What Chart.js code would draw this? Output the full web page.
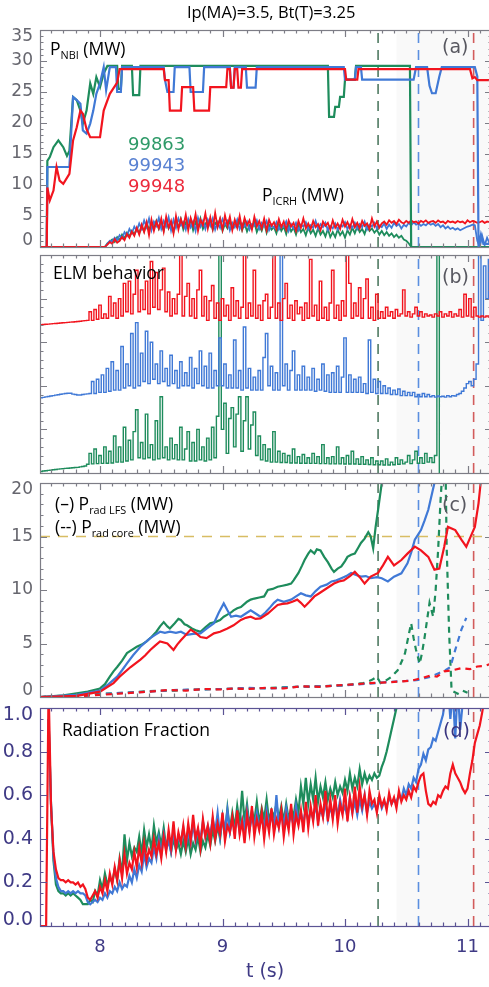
<!DOCTYPE html>
<html><head><meta charset="utf-8">
<script src="https://cdn.jsdelivr.net/npm/chart.js@4/dist/chart.umd.min.js"></script>
<style>
html,body{margin:0;padding:0;background:#fff;overflow:hidden;width:489px;height:987px;}
#wrap{position:relative;width:489px;height:987px;overflow:hidden;background:#fff;}
canvas{position:absolute;left:0;}
.t{position:absolute;white-space:nowrap;line-height:1;transform:translateY(-50%);font-family:"Open Sans",sans-serif;color:#000;z-index:5;font-size:17.5px}
.t sub{font-size:0.62em;vertical-align:-0.38em;line-height:0}
.num{font-family:"DejaVu Sans",sans-serif;font-size:18px}
.lab{font-family:"DejaVu Sans",sans-serif;font-size:19px;color:#585860}
</style></head><body><div id="wrap">
<canvas id="ca" width="492" height="242" style="top:18px;width:492px;height:242px"></canvas>
<canvas id="cb" width="492" height="230" style="top:249px;width:492px;height:230px"></canvas>
<canvas id="cc" width="492" height="226" style="top:477px;width:492px;height:226px"></canvas>
<canvas id="cd" width="492" height="287" style="top:700px;width:492px;height:287px"></canvas>
<div class="t" style="left:187px;top:12px;font-size:16.5px">Ip(MA)=3.5, Bt(T)=3.25</div>
<div class="t" style="left:50px;top:49px">P<sub>NBI</sub> (MW)</div>
<div class="t num" style="left:128px;top:143.5px;color:#2e9a68">99863</div>
<div class="t num" style="left:128px;top:164.5px;color:#5a82d2">99943</div>
<div class="t num" style="left:128px;top:185.5px;color:#ec2a3c">99948</div>
<div class="t" style="left:262px;top:195px">P<sub>ICRH</sub> (MW)</div>
<div class="t lab" style="left:442px;top:46px">(a)</div>
<div class="t" style="left:53px;top:273px">ELM behavior</div>
<div class="t lab" style="left:442px;top:276px">(b)</div>
<div class="t" style="left:55px;top:503.5px">(–) P<sub>rad LFS</sub> (MW)</div>
<div class="t" style="left:55px;top:526.5px">(--) P<sub>rad core</sub> (MW)</div>
<div class="t lab" style="left:442px;top:504px">(c)</div>
<div class="t" style="left:62px;top:730px">Radiation Fraction</div>
<div class="t lab" style="left:443px;top:730px;color:#3a3580">(d)</div>
</div>
<script>
// ---------------- DATA ----------------
const tGrid = [
7.50,7.52,7.54,7.56,7.58,7.60,7.62,7.64,7.66,7.68,
7.70,7.72,7.74,7.76,7.78,7.80,7.82,7.84,7.86,7.88,
7.90,7.92,7.94,7.96,7.98,8.00,8.02,8.04,8.06,8.08,
8.10,8.12,8.14,8.16,8.18,8.20,8.22,8.24,8.26,8.28,
8.30,8.32,8.34,8.36,8.38,8.40,8.42,8.44,8.46,8.48,
8.50,8.52,8.54,8.56,8.58,8.60,8.62,8.64,8.66,8.68,
8.70,8.72,8.74,8.76,8.78,8.80,8.82,8.84,8.86,8.88,
8.90,8.92,8.94,8.96,8.98,9.00,9.02,9.04,9.06,9.08,
9.10,9.12,9.14,9.16,9.18,9.20,9.22,9.24,9.26,9.28,
9.30,9.32,9.34,9.36,9.38,9.40,9.42,9.44,9.46,9.48,
9.50,9.52,9.54,9.56,9.58,9.60,9.62,9.64,9.66,9.68,
9.70,9.72,9.74,9.76,9.78,9.80,9.82,9.84,9.86,9.88,
9.90,9.92,9.94,9.96,9.98,10.00,10.02,10.04,10.06,10.08,
10.10,10.12,10.14,10.16,10.18,10.20,10.22,10.24,10.26,10.28,
10.30,10.32,10.34,10.36,10.38,10.40,10.42,10.44,10.46,10.48,
10.50,10.52,10.54,10.56,10.58,10.60,10.62,10.64,10.66,10.68,
10.70,10.72,10.74,10.76,10.78,10.80,10.82,10.84,10.86,10.88,
10.90,10.92,10.94,10.96,10.98,11.00,11.02,11.04,11.06,11.08,
11.10,11.12,11.14,11.16,11.18];

const shotNames = ['99863','99943','99948'];
const disruptTimes = [10.27, 10.60, 11.05];
const radLimit = 15;
const shadeFrom = 10.42;

// (a) P_NBI (MW), [t, value]
const nbiGreen = [
[7.50,0],[7.565,0],[7.57,13.9],[7.59,14.5],[7.62,16.1],[7.66,17.2],[7.70,16.1],[7.73,14.7],[7.75,15.5],[7.78,24.2],[7.81,23.7],[7.84,22.0],[7.86,19.9],[7.89,22.0],[7.92,26.4],[7.945,24.7],[7.97,27.4],[8.00,25.8],[8.03,28.0],[8.06,29.2],
[8.14,29.2],[8.15,25.5],[8.17,25.5],[8.18,29.2],[8.26,29.2],[8.27,24.5],[8.32,24.5],[8.33,29.2],
[9.86,29.2],[9.87,21.0],[9.91,21.0],[9.92,22.6],[9.95,22.6],[9.96,24.2],[9.99,24.2],[10.0,27.0],[10.08,27.0],[10.09,29.2],
[10.53,29.2],[10.54,0],[11.2,0]];
const nbiBlue = [
[7.50,0],[7.565,0],[7.57,12.9],[7.75,12.9],[7.78,24.2],[7.81,23.7],[7.84,23.1],[7.86,18.8],[7.89,18.3],[7.92,19.9],[7.945,22.0],[7.97,24.7],[8.00,26.4],[8.03,29.0],[8.05,25.3],[8.08,29.0],
[8.13,29.0],[8.14,25.0],[8.17,25.0],[8.18,29.0],
[8.52,29.0],[8.53,27.0],[8.55,25.0],[8.60,25.0],[8.61,29.0],
[8.73,29.0],[8.74,25.0],[8.84,25.0],[8.85,29.0],
[9.06,29.0],[9.07,25.7],[9.09,25.7],[9.10,29.0],
[9.19,29.0],[9.20,25.7],[9.27,25.7],[9.28,29.0],
[9.99,29.0],[10.00,27.0],[10.08,27.0],[10.09,29.0],[10.13,29.0],[10.14,27.0],[10.56,27.0],[10.58,29.0],
[10.67,29.0],[10.69,26.0],[10.71,24.8],[10.74,24.8],[10.77,27.5],[10.79,29.0],
[11.06,29.0],[11.08,27.5],[11.09,0],[11.11,2.0],[11.13,0.5],[11.2,0.5]];
const nbiRed = [
[7.50,0],[7.565,0],[7.57,9.6],[7.59,7.5],[7.62,9.1],[7.645,12.9],[7.67,10.7],[7.70,10.2],[7.75,11.8],[7.78,17.2],[7.81,19.3],[7.84,22.0],[7.86,21.5],[7.89,19.0],[7.92,17.7],[8.00,17.7],[8.03,22.0],[8.08,24.7],[8.14,26.5],[8.16,28.7],
[8.52,28.7],[8.53,26.9],[8.56,26.9],[8.57,22.0],[8.66,22.0],[8.67,25.8],[8.76,25.8],[8.77,22.0],[8.89,22.0],[8.90,25.8],[9.03,25.8],[9.04,28.7],
[9.06,28.7],[9.07,25.7],[9.09,25.7],[9.10,28.7],[9.12,28.7],[9.13,25.7],[9.15,25.7],[9.16,28.7],
[10.00,28.7],[10.01,27.0],[10.10,27.0],[10.11,28.7],
[11.02,28.7],[11.04,27.2],[11.06,27.4],[11.08,26.9],[11.2,26.9]];

// (a) P_ICRH (MW) on tGrid
const icrhGreen = [
0,0,0,0,0,0,0,0,0,0, 0,0,0,0,0,0,0,0,0,0, 0,0,0,0,0,0,0,0,0.6,0.9,
1.2,0.8,1.6,1.1,2.0,1.4,2.3,1.7,2.6,2.0, 3.0,2.2,3.4,2.5,3.9,2.8,3.6,3.1,4.2,2.9,
3.8,2.6,4.3,3.0,3.7,2.4,4.1,3.2,4.5,2.8, 3.9,3.3,4.4,2.7,4.0,3.1,4.6,2.9,3.8,3.3,
4.3,2.8,3.9,3.4,4.5,2.6,3.7,3.0,4.2,2.9, 3.6,3.2,4.1,2.7,3.8,2.5,3.5,3.0,4.0,2.4,
3.4,2.6,3.9,2.3,3.6,2.8,3.2,2.2,3.7,2.6, 3.3,2.1,3.6,2.5,3.1,2.0,3.4,2.4,2.9,1.9,
3.2,2.2,2.8,1.8,3.0,2.0,2.6,1.7,2.9,1.6, 2.4,1.6,2.8,1.9,2.5,1.5,2.7,2.0,3.1,2.2,
3.3,2.4,2.9,2.1,3.4,2.6,3.0,2.3,2.8,2.0, 2.6,1.9,2.4,1.8,2.2,1.6,2.0,1.5,1.8,1.2,
1.0,0.6,0,0,0,0,0,0,0,0, 0,0,0,0,0,0,0,0,0,0, 0,0,0,0,0,0,0,0,0,0, 0,0,0,0,0];
const icrhBlue = [
0,0,0,0,0,0,0,0,0,0, 0,0,0,0,0,0,0,0,0,0, 0,0,0,0,0,0,0,0,0.5,1.0,
0.9,1.5,1.1,1.9,1.4,2.4,1.8,2.9,2.2,3.3, 2.6,3.8,2.9,4.3,3.2,4.6,2.7,4.1,3.4,4.7,
2.9,4.2,3.3,4.8,2.7,4.4,3.1,4.6,3.5,4.0, 2.8,4.5,3.2,4.1,2.6,4.7,3.3,4.2,2.9,4.4,
3.4,4.6,2.8,4.0,3.1,4.5,3.6,4.2,2.7,3.9, 3.2,4.4,2.9,3.8,3.3,4.1,2.8,3.7,3.4,4.3,
2.9,3.9,3.3,4.2,2.7,3.6,3.1,4.0,2.8,3.5, 3.2,4.1,2.6,3.7,3.0,3.9,2.7,3.6,3.3,4.0,
2.8,3.5,3.1,4.2,2.9,3.7,3.2,3.9,2.7,3.4, 3.0,3.8,2.8,3.5,3.3,4.0,2.9,3.6,3.1,3.9,
2.9,3.7,3.2,4.1,2.8,3.6,3.3,3.9,3.0,3.5, 3.2,3.8,2.9,3.6,3.1,3.9,3.4,3.7,3.0,3.6,
3.3,3.9,3.5,4.0,3.6,3.8,3.4,3.7,3.5,3.9, 3.6,3.8,3.4,3.7,3.2,3.5,3.0,3.3,2.9,3.1,
2.8,3.0,2.7,2.9,3.1,3.3,3.4,3.6,3.5,1.0, 0,1.8,0.3,1.5,0.6];
const icrhRed = [
0,0,0,0,0,0,0,0,0,0, 0,0,0,0,0,0,0,0,0,0, 0,0,0,0,0,0,0,0,0.4,0.8,
0.5,1.3,0.7,1.0,1.6,1.1,2.1,1.5,2.5,1.8, 3.1,2.0,3.6,2.4,4.0,1.9,4.4,2.6,4.1,3.0,
4.6,2.5,4.9,3.1,4.2,2.2,5.0,2.8,4.5,3.3, 5.2,2.7,4.7,3.4,5.3,2.6,4.4,3.5,5.4,3.0,
4.8,2.9,5.5,3.2,4.6,2.8,5.1,3.4,4.9,2.7, 4.4,3.1,5.0,2.9,4.7,3.5,4.3,2.8,4.9,3.3,
4.2,3.0,4.6,2.7,4.4,3.4,4.0,2.9,4.5,3.2, 4.1,2.8,4.3,3.3,3.9,2.6,4.2,3.1,4.6,3.0,
3.8,2.9,4.2,3.2,3.7,2.7,4.1,3.4,3.9,2.8, 4.3,3.1,3.8,2.9,4.4,3.3,4.0,3.0,4.5,3.2,
3.9,3.0,4.2,3.4,3.8,2.9,4.6,3.3,4.1,3.1, 3.8,4.1,3.6,4.3,3.9,4.2,3.7,4.4,4.0,3.8,
4.2,3.9,4.3,4.0,4.1,3.8,4.2,4.0,4.3,3.9, 4.1,4.2,3.9,4.3,4.0,4.1,3.8,4.2,4.0,4.1,
3.9,4.2,4.0,4.1,3.8,4.3,4.0,4.2,4.1,3.9, 4.0,4.2,3.9,4.1,4.0];

// (b) ELM behaviour (offset traces, arbitrary units) on tGrid
const elmRed = [
67.9,68.0,68.1,68.2,68.3,68.4,68.5,68.6,68.7,68.8, 68.9,69.0,69.1,69.2,69.3,69.4,69.5,69.6,69.8,69.9,
70,74,70,75,70.5,77,71,73,71,81, 72,78,71,80,72,87,74,88,73,82,
93,74,84,75,88,73,97,76,92,75, 84,94,74,83,72,80,73,82,104,72,
81,87,72,80,71,84,93,72,81,70, 79,86,71,78,70,80,72,77,70,85,
72,79,71,76,104,71,78,72,93,71, 77,70,79,82,71,76,104,71,78,70,
80,87,71,77,70,79,73,76,70,78, 71,98,72,77,70,88,71,76,70,78,
93,71,77,70,79,72,104,87,71,78, 72,85,71,80,89,71,76,70,82,71,
74,71,76,72,74,71,75,72,73,84, 72,74,71.5,73,76,72,74,71.5,73,72,
72.5,71.5,73,72,74,71.5,73,72,74,71.5, 73,72,75,71.5,82,72,80,71.5,76,72,
71.5,72,71.5,72,71.5];
const elmBlue = [
34.3,34.5,34.7,34.9,35.1,35.3,35.5,35.7,35.9,36.1, 36.3,36.5,36.6,36.6,36.2,36.0,35.8,35.8,36.0,36.2,
36.3,36.5,42,36.5,43,37,45,37,48,37.5, 51,38,47,38,58,39,50,40,64,39,
69,40,55,42,65,41,60,43,50,41, 56,42,48,40,54,41,47,39,51,40,
46,40,53,39,48,41,56,40,49,39, 55,39,47,40,62,40,50,39,45,39,
61,39,47,38,67,39,48,38,44,38, 47,38,53,64,40,49,38,46,38,104,
40,50,38,47,56,38,45,38,49,38, 44,38,48,37.5,43,38,50,37.5,45,37,
46,37,49,37,44,62,37,45,37,43, 37,44,37,41,36.5,61,37,43,36.5,42,
36.5,40,36.5,39,36,38,36,38.5,35.5,37.5, 35.5,37,35.5,37,35,36,35,36.5,35,36,
35,35.5,34.8,35.3,35,35.2,34.8,35.5,35,35.5, 35.3,36,36.5,37.5,39,41,42,40,43,50,
100,70,95,80,98];
const elmGreen = [
0.6,0.7,0.9,1.0,1.2,1.3,1.5,1.6,1.8,1.9, 2.0,2.1,2.2,2.3,2.4,2.5,2.6,2.8,3.0,3.2,
4,9,4.2,11,4.3,8,4.4,12,4.5,10, 4.6,17,5,12,5,21,5.5,15,6,19,
29,7,14,6.5,27,7,13,6,24,6.5, 35,7,12,6,16,6.5,13,6,21,6,
11,19,5.5,14,5.5,20,6,12,5.5,16, 6,21,7,26,104,20,32,9,25,30,
12,27,35,10,24,35,11,22,28,8, 17,6,13,5.5,11,5,19,5,10,4.8,
9,4.8,8,4.6,11,4.6,7.5,4.5,8.5,4.5, 7,4.4,9,4.4,7.5,4.3,13,4.3,7,4.2,
7.5,4.2,12,4.2,7,4.1,8,4.1,10,4.1, 6.5,4.0,7.5,4.0,6,3.9,7,3.8,5.5,3.8,
5.5,3.7,6.5,3.7,5,3.8,7,4,6,4.2, 5,8,4.3,6,10,4.5,7,4.4,9,5,
7,4.8,8,104,-5,null,null,null,null,null, null,null,null,null,null,null,null,null,null,null,
null,null,null,null,null];

// (c) P_rad LFS (solid) and P_rad core (dashed), MW, [t, value]
const lfsGreen = [
[7.51,0],[7.70,0.15],[7.81,0.35],[7.90,0.5],[8.00,0.8],[8.04,1.2],[8.08,1.9],[8.11,2.4],[8.14,2.8],[8.18,3.4],[8.22,4.1],[8.26,4.4],[8.30,4.7],[8.34,4.9],[8.38,5.2],[8.42,5.6],[8.46,6.1],[8.49,6.6],[8.52,7.0],[8.55,6.6],[8.57,6.4],[8.61,6.9],[8.64,7.3],[8.66,7.2],[8.69,6.8],[8.71,6.7],[8.75,6.4],[8.79,6.2],[8.82,6.1],[8.86,6.5],[8.90,6.9],[8.94,7.0],[8.98,7.2],[9.01,7.5],[9.04,7.7],[9.07,7.9],[9.09,8.1],[9.12,8.3],[9.15,8.4],[9.18,8.7],[9.20,8.9],[9.23,9.1],[9.26,9.2],[9.30,9.3],[9.34,9.4],[9.37,10.0],[9.41,10.1],[9.45,10.3],[9.49,10.4],[9.53,10.5],[9.56,10.6],[9.58,10.9],[9.62,11.6],[9.65,12.3],[9.67,12.8],[9.70,13.4],[9.72,13.7],[9.75,13.4],[9.77,13.8],[9.80,13.7],[9.83,13.1],[9.86,12.6],[9.89,12.0],[9.91,11.7],[9.94,12.0],[9.97,12.2],[10.00,12.7],[10.02,13.1],[10.05,13.3],[10.08,13.4],[10.11,14.0],[10.13,14.4],[10.16,14.8],[10.19,15.4],[10.21,15.0],[10.23,13.9],[10.25,15.9],[10.27,17.5],[10.30,20.0],[10.32,22.5]];
const lfsBlue = [
[7.51,0],[7.81,0.2],[8.00,0.6],[8.07,1.2],[8.14,1.9],[8.18,2.5],[8.22,3.15],[8.27,3.9],[8.33,4.7],[8.37,5.1],[8.41,5.5],[8.45,5.8],[8.49,6.1],[8.53,6.0],[8.57,6.1],[8.62,6.0],[8.66,6.1],[8.71,5.8],[8.76,5.9],[8.82,5.95],[8.87,6.4],[8.93,6.9],[8.97,7.9],[9.01,8.75],[9.04,8.1],[9.07,7.5],[9.11,7.6],[9.15,7.5],[9.19,7.8],[9.23,8.1],[9.27,7.8],[9.31,7.5],[9.35,7.9],[9.39,8.4],[9.42,8.8],[9.45,9.1],[9.50,8.9],[9.56,9.1],[9.60,9.4],[9.64,9.7],[9.68,9.5],[9.72,9.4],[9.76,9.9],[9.80,10.3],[9.85,10.5],[9.89,10.8],[9.93,10.9],[9.97,11.1],[10.01,11.3],[10.05,11.6],[10.09,11.4],[10.13,11.25],[10.17,11.3],[10.21,11.1],[10.26,11.2],[10.30,11.1],[10.35,10.8],[10.40,11.25],[10.46,11.56],[10.51,12.5],[10.54,13.5],[10.57,14.7],[10.62,15.6],[10.65,16.5],[10.68,17.5],[10.73,20.0],[10.76,22]];
const lfsRed = [
[7.51,0],[7.81,0.1],[8.00,0.5],[8.11,1.3],[8.16,1.9],[8.25,2.8],[8.33,3.5],[8.37,3.9],[8.41,4.4],[8.45,4.8],[8.49,5.2],[8.55,5.0],[8.60,4.4],[8.63,4.9],[8.66,5.3],[8.70,5.8],[8.74,6.3],[8.78,6.0],[8.82,5.6],[8.87,5.5],[8.93,5.95],[8.98,6.1],[9.04,6.4],[9.09,6.7],[9.15,7.2],[9.19,7.4],[9.23,7.5],[9.27,7.3],[9.31,7.35],[9.37,7.8],[9.41,8.2],[9.45,8.6],[9.49,8.7],[9.53,8.75],[9.57,8.9],[9.61,9.1],[9.64,8.8],[9.67,8.44],[9.71,8.9],[9.75,9.4],[9.79,9.7],[9.83,10.0],[9.87,10.3],[9.91,10.6],[9.95,10.8],[9.99,10.9],[10.04,11.3],[10.08,11.7],[10.12,11.2],[10.16,10.6],[10.21,11.25],[10.27,11.6],[10.31,12.3],[10.35,13.1],[10.40,12.3],[10.46,12.8],[10.51,13.4],[10.57,14.05],[10.62,13.7],[10.68,13.1],[10.73,11.9],[10.77,12.0],[10.81,14.05],[10.84,15.9],[10.90,15.6],[10.95,14.7],[10.99,14.05],[11.03,15.1],[11.06,15.9],[11.09,18.1],[11.11,20.3],[11.14,23]];
const coreGreen = [
[7.51,0],[7.8,0.05],[8.0,0.3],[8.2,0.4],[8.4,0.55],[8.6,0.6],[8.8,0.7],[9.0,0.75],[9.2,0.8],[9.4,0.85],[9.6,0.95],[9.8,1.0],[10.0,1.1],[10.15,1.3],[10.22,1.6],[10.26,1.9],[10.29,1.3],[10.33,1.5],[10.38,1.9],[10.43,2.5],[10.47,3.5],[10.49,4.1],[10.52,5.8],[10.54,6.9],[10.56,5.5],[10.58,4.4],[10.61,3.1],[10.63,4.2],[10.65,5.6],[10.67,7.2],[10.69,8.8],[10.72,7.5],[10.74,10.0],[10.76,13.7],[10.78,18.4],[10.80,22],[10.82,22],[10.83,14],[10.85,6],[10.87,0.6],[10.92,0.3],[10.96,0.6],[11.0,0.4]];
const coreBlue = [
[7.51,0],[7.8,0.05],[8.0,0.25],[8.2,0.4],[8.4,0.5],[8.6,0.65],[8.8,0.7],[9.0,0.75],[9.2,0.85],[9.4,0.8],[9.6,0.95],[9.8,1.0],[10.0,1.1],[10.2,1.25],[10.35,1.4],[10.5,1.5],[10.6,1.6],[10.65,1.75],[10.70,1.9],[10.76,2.2],[10.82,2.5],[10.86,2.8],[10.90,4.4],[10.95,6.3],[10.99,7.4]];
const coreRed = [
[7.51,0],[7.80,0.05],[8.00,0.2],[8.2,0.35],[8.4,0.5],[8.55,0.65],[8.7,0.6],[8.85,0.75],[9.0,0.7],[9.09,0.8],[9.2,0.75],[9.35,0.85],[9.5,0.8],[9.64,1.0],[9.8,0.95],[9.95,1.1],[10.1,1.2],[10.19,1.3],[10.3,1.35],[10.46,1.45],[10.55,1.55],[10.62,1.75],[10.7,2.0],[10.75,1.9],[10.81,2.4],[10.88,2.5],[10.95,2.7],[11.02,2.6],[11.08,2.85],[11.14,2.9],[11.2,3.15]];

// (d) Radiation fraction on tGrid
const fracGreen = [
null,null,null,null,0.95,0.56,0.30,0.19,0.16,0.15, 0.15,0.14,0.15,0.14,0.15,0.14,0.13,0.12,0.10,0.10,
0.10,0.12,0.11,0.16,0.14,0.21,0.17,0.24,0.19,0.22, 0.20,0.26,0.21,0.31,0.24,0.42,0.30,0.38,0.32,0.36,
0.34,0.41,0.33,0.44,0.36,0.42,0.35,0.46,0.38,0.43, 0.37,0.45,0.36,0.41,0.34,0.40,0.35,0.38,0.33,0.39,
0.34,0.40,0.33,0.38,0.35,0.41,0.34,0.39,0.36,0.42, 0.37,0.44,0.39,0.46,0.40,0.50,0.42,0.54,0.44,0.52,
0.45,0.55,0.47,0.62,0.48,0.56,0.46,0.53,0.48,0.57, 0.47,0.54,0.49,0.58,0.48,0.53,0.50,0.56,0.49,0.55,
0.48,0.56,0.49,0.54,0.50,0.58,0.52,0.64,0.56,0.68, 0.56,0.65,0.58,0.68,0.57,0.64,0.59,0.66,0.58,0.63,
0.59,0.66,0.60,0.64,0.61,0.67,0.62,0.70,0.63,0.68, 0.64,0.72,0.65,0.70,0.66,0.69,0.67,0.70,0.68,0.69,
0.73,0.76,0.80,0.85,0.90,0.95,1.0,1.1,null,null, null,null,null,null,null,null,null,null,null,null,
null,null,null,null,null,null,null,null,null,null, null,null,null,null,null,null,null,null,null,null,
null,null,null,null,null];
const fracBlue = [
null,null,null,null,0.95,0.56,0.32,0.22,0.18,0.16, 0.16,0.15,0.16,0.15,0.16,0.15,0.16,0.15,0.15,0.14,
0.11,0.10,0.11,0.12,0.11,0.13,0.12,0.15,0.13,0.16, 0.15,0.18,0.16,0.20,0.17,0.19,0.18,0.23,0.20,0.26,
0.22,0.28,0.25,0.33,0.27,0.31,0.29,0.36,0.31,0.40, 0.33,0.42,0.35,0.39,0.34,0.44,0.36,0.41,0.38,0.45,
0.37,0.43,0.38,0.47,0.39,0.44,0.40,0.48,0.41,0.46, 0.42,0.49,0.43,0.52,0.41,0.50,0.44,0.53,0.43,0.48,
0.44,0.51,0.43,0.49,0.45,0.53,0.44,0.50,0.46,0.52, 0.45,0.50,0.44,0.53,0.46,0.51,0.45,0.60,0.46,0.52,
0.46,0.54,0.47,0.51,0.46,0.55,0.48,0.52,0.47,0.54, 0.48,0.53,0.49,0.56,0.48,0.54,0.50,0.57,0.49,0.55,
0.50,0.56,0.51,0.58,0.52,0.55,0.50,0.59,0.52,0.57, 0.51,0.58,0.53,0.60,0.52,0.57,0.54,0.56,0.53,0.58,
0.54,0.57,0.55,0.59,0.56,0.58,0.57,0.60,0.58,0.63, 0.60,0.65,0.63,0.68,0.66,0.72,0.74,0.79,0.76,0.81,
0.82,0.86,0.85,0.89,0.93,0.97,1.05,1.1,0.95,1.08, 0.86,1.1,0.90,1.02,1.1,1.1,1.1,1.1,1.1,1.1,
1.1,1.1,1.1,1.1,1.1];
const fracRed = [
0,0,0,0,1.1,0.55,0.34,0.26,0.22,0.21, 0.21,0.20,0.21,0.20,0.20,0.19,0.20,0.18,0.19,0.17,
0.13,0.12,0.14,0.16,0.13,0.18,0.15,0.21,0.16,0.24, 0.19,0.27,0.21,0.30,0.22,0.33,0.24,0.29,0.26,0.34,
0.27,0.36,0.29,0.38,0.30,0.35,0.32,0.40,0.33,0.38, 0.31,0.41,0.34,0.44,0.36,0.48,0.35,0.43,0.38,0.46,
0.37,0.47,0.39,0.51,0.40,0.45,0.36,0.49,0.41,0.46, 0.38,0.50,0.40,0.47,0.42,0.52,0.39,0.46,0.43,0.50,
0.40,0.53,0.42,0.48,0.38,0.51,0.43,0.55,0.41,0.49, 0.44,0.52,0.40,0.50,0.43,0.54,0.42,0.49,0.45,0.53,
0.41,0.50,0.44,0.56,0.42,0.51,0.46,0.53,0.43,0.57, 0.45,0.55,0.48,0.60,0.46,0.56,0.50,0.62,0.48,0.58,
0.49,0.60,0.47,0.56,0.51,0.63,0.48,0.59,0.52,0.64, 0.52,0.64,0.55,0.60,0.51,0.62,0.56,0.58,0.52,0.60,
0.55,0.58,0.53,0.61,0.56,0.59,0.54,0.62,0.57,0.60, 0.58,0.62,0.59,0.64,0.62,0.66,0.69,0.70,0.62,0.56,
0.55,0.57,0.56,0.60,0.59,0.62,0.64,0.63,0.70,0.74, 0.70,0.68,0.66,0.63,0.61,0.63,0.70,0.76,0.84,0.88,
0.92,0.98,1.05,1.1,1.15];

// tick labels
const aTickVals = [0,5,10,15,20,25,30,35];
const aTickText = ['0','5','10','15','20','25','30','35'];
const cTickVals = [0,5,10,15,20];
const cTickText = ['0','5','10','15','20'];
const dTickVals = [0,0.2,0.4,0.6,0.8,1.0];
const dTickText = ['0.0','0.2','0.4','0.6','0.8','1.0'];
const xTickVals = [8,9,10,11];
const xTickText = ['8','9','10','11'];
const xTitle = 't (s)';

// ---------------- STYLE / BUILD ----------------
const COL = {green:'#1e8c5c', blue:'#4079d6', red:'#f2141e'};
const DCOL = ['#4f7a62', '#5b8fe0', '#d25c5c'];
const X_MIN = 7.51, X_MAX = 11.2;

function pairs(arr){ return arr.map(p => ({x:p[0], y:p[1]})); }
function grid(vals){ return vals.map((v,i) => ({x:tGrid[i], y:v})); }
function ds(data, color, width, order, dash, stepped){
  return {data, borderColor:color, borderWidth:width, order, borderDash:dash||[], pointRadius:0, tension:0, fill:false, spanGaps:false, stepped:stepped||false};
}
function vlines(yMin, yMax){
  return disruptTimes.map((t,k) => ds([{x:t,y:yMin},{x:t,y:yMax}], DCOL[k], 1.6, 10, [10,7]));
}

function axesPlugin(p){
  return {
    id:'axes_'+p.name,
    beforeDatasetsDraw(chart){
      const {ctx, chartArea:a, scales:{x}} = chart;
      const xs = x.getPixelForValue(shadeFrom);
      ctx.save();
      ctx.fillStyle = 'rgba(110,110,110,0.04)';
      ctx.fillRect(xs, a.top, a.right - xs, a.bottom - a.top);
      ctx.restore();
    },
    afterDatasetsDraw(chart){
      const {ctx, chartArea:a, scales:{x, y}} = chart;
      ctx.save();
      ctx.strokeStyle = p.axisColor; ctx.lineWidth = 1.2;
      ctx.strokeRect(a.left + 0.5, a.top + 0.5, a.right - a.left, a.bottom - a.top);
      ctx.beginPath();
      for (let k = 76; k <= 112; k++){
        const px = Math.round(x.getPixelForValue(k/10)) + 0.5;
        const len = (k % 10 === 0) ? 7 : 3.5;
        ctx.moveTo(px, a.top); ctx.lineTo(px, a.top + len);
        ctx.moveTo(px, a.bottom); ctx.lineTo(px, a.bottom - len);
      }
      const n = Math.round((p.yMax - p.yMin) / p.minor);
      for (let i = 0; i <= n; i++){
        const v = p.yMin + i * p.minor;
        const py = Math.round(y.getPixelForValue(v)) + 0.5;
        const r = v / p.major;
        const len = Math.abs(r - Math.round(r)) < 1e-6 ? 7 : 3.5;
        ctx.moveTo(a.left, py); ctx.lineTo(a.left + len, py);
        ctx.moveTo(a.right, py); ctx.lineTo(a.right - len, py);
      }
      ctx.stroke();
      if (p.labelVals){
        ctx.fillStyle = p.labelColor; ctx.font = p.labelFont;
        ctx.textAlign = 'right'; ctx.textBaseline = 'middle';
        p.labelVals.forEach((v,i) => {
          let py = y.getPixelForValue(v);
          if (i === 0) py -= 6;
          if (i === p.labelVals.length - 1) py += 7;
          ctx.fillText(p.labelText[i], a.left - 7, py);
        });
      }
      if (p.xLabels){
        ctx.fillStyle = p.labelColor; ctx.font = '18px "DejaVu Sans"';
        ctx.textAlign = 'center'; ctx.textBaseline = 'middle';
        xTickVals.forEach((v,i) => ctx.fillText(xTickText[i], x.getPixelForValue(v), a.bottom + 21));
        ctx.font = '19px "DejaVu Sans"';
        ctx.fillText(xTitle, 265, a.bottom + 46);
      }
      ctx.restore();
    }
  };
}

function makeChart(id, datasets, yMin, yMax, pad, p){
  return new Chart(document.getElementById(id), {
    type:'line',
    data:{datasets},
    options:{
      responsive:false, animation:false, devicePixelRatio:1,
      layout:{padding:pad},
      plugins:{legend:{display:false}, tooltip:{enabled:false}},
      events:[],
      scales:{
        x:{type:'linear', min:X_MIN, max:X_MAX, display:false},
        y:{type:'linear', min:yMin, max:yMax, display:false}
      }
    },
    plugins:[axesPlugin(Object.assign({yMin, yMax}, p))]
  });
}

const GRAY = '#7d7d86', GLAB = '#66666e';
const NAVY = '#5b5494', NLAB = '#3f3a85';

makeChart('ca', [
  ds(pairs(nbiGreen), COL.green, 2.2, 3),
  ds(pairs(nbiBlue), COL.blue, 2.2, 2),
  ds(pairs(nbiRed), COL.red, 2.2, 1),
  ds(grid(icrhGreen), COL.green, 1.8, 6),
  ds(grid(icrhBlue), COL.blue, 1.8, 5),
  ds(grid(icrhRed), COL.red, 1.8, 4),
  ...vlines(0, 35)
], 0, 35, {left:40, right:0, top:12, bottom:13},
  {name:'a', axisColor:GRAY, minor:1, major:5, labelVals:aTickVals, labelText:aTickText, labelColor:GLAB, labelFont:'17px "DejaVu Sans"'});

makeChart('cb', [
  ds(grid(elmGreen), COL.green, 1.4, 3, null, 'middle'),
  ds(grid(elmBlue), COL.blue, 1.4, 2, null, 'middle'),
  ds(grid(elmRed), COL.red, 1.4, 1, null, 'middle'),
  ...vlines(0, 100)
], 0, 100, {left:40, right:0, top:6, bottom:6},
  {name:'b', axisColor:GRAY, minor:4, major:20});

makeChart('cc', [
  ds(pairs(lfsGreen), COL.green, 2.2, 3),
  ds(pairs(lfsBlue), COL.blue, 2.2, 2),
  ds(pairs(lfsRed), COL.red, 2.2, 1),
  ds(pairs(coreGreen), COL.green, 2.2, 6, [6,5]),
  ds(pairs(coreBlue), COL.blue, 2.2, 5, [6,5]),
  ds(pairs(coreRed), COL.red, 2.2, 4, [6,5]),
  ds([{x:X_MIN,y:radLimit},{x:X_MAX,y:radLimit}], '#d8bd63', 1.6, 9, [10,8]),
  ...vlines(0, 20)
], 0, 20, {left:40, right:0, top:6, bottom:6},
  {name:'c', axisColor:GRAY, minor:1, major:5, labelVals:cTickVals, labelText:cTickText, labelColor:GLAB, labelFont:'17px "DejaVu Sans"'});

makeChart('cd', [
  ds(grid(fracGreen), COL.green, 2.2, 3),
  ds(grid(fracBlue), COL.blue, 2.2, 2),
  ds(grid(fracRed), COL.red, 2.2, 1),
  ...vlines(0, 1)
], 0, 1, {left:40, right:0, top:8, bottom:61},
  {name:'d', axisColor:NAVY, minor:0.05, major:0.2, labelVals:dTickVals, labelText:dTickText, labelColor:NLAB, labelFont:'19px "DejaVu Sans"', xLabels:true});
</script>
</body></html>
